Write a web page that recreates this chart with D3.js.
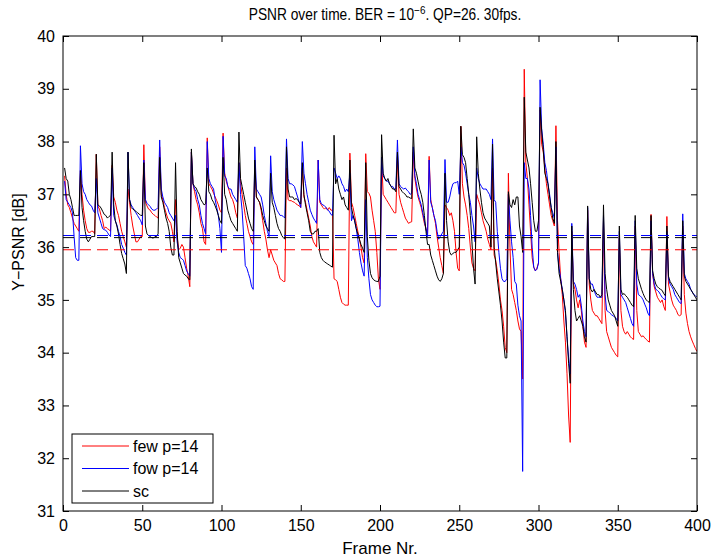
<!doctype html>
<html lang="en">
<head>
<meta charset="utf-8">
<title>PSNR over time</title>
<style>
html, body {
	margin: 0;
	padding: 0;
	background: #fff;
	overflow: hidden;
}
svg {
	display: block;
	font-family: 'Liberation Sans', Arial, sans-serif;
}
.frame {
	fill: none;
	stroke: #000;
	stroke-width: 1px;
}
.tick line {
	stroke: #000;
	stroke-width: 1px;
}
.series {
	fill: none;
	stroke-width: 1px;
	stroke-linejoin: round;
}
.mean {
	stroke-width: 1px;
	stroke-dasharray: 11, 6;
}
text {
	fill: #000;
}
</style>
</head>
<body>
<div id="chart"></div>
<script src="https://cdnjs.cloudflare.com/ajax/libs/d3/7.8.5/d3.min.js"></script>
<script>
/* DATA — one row per GOP of 10 frames, frame 10k+1 is the intra frame */

var seriesNames = ['few p=14', 'fow p=14', 'sc'];
var seriesColors = ['#ff0000', '#0000ff', '#000000'];

var fewRows = [
	[37.35, 37.0, 36.8, 36.75, 36.65, 36.55, 36.45, 36.4, 36.35, 36.3],
	[37.45, 37.0, 36.7, 36.5, 36.35, 36.28, 36.28, 36.3, 36.3, 36.25],
	[37.76, 36.78, 36.72, 36.6, 36.5, 36.35, 36.38, 36.35, 36.33, 36.3],
	[37.55, 36.95, 36.85, 36.7, 36.6, 36.45, 36.3, 36.2, 36.1, 36.0],
	[37.1, 36.85, 36.6, 36.4, 36.25, 36.1, 36.1, 36.15, 36.2, 36.2],
	[37.94, 36.85, 36.78, 36.72, 36.7, 36.65, 36.62, 36.6, 36.57, 36.55],
	[37.9, 37.0, 36.9, 36.75, 36.65, 36.55, 36.5, 36.45, 36.3, 36.1],
	[36.9, 36.2, 35.95, 35.98, 36.05, 36.0, 35.8, 35.6, 35.45, 35.25],
	[37.8, 37.2, 37.05, 36.9, 36.8, 36.65, 36.45, 36.35, 36.1, 36.05],
	[38.07, 37.2, 37.15, 37.1, 37.02, 36.95, 36.88, 36.8, 36.7, 36.65],
	[38.16, 37.4, 37.25, 37.15, 37.05, 36.95, 36.9, 36.8, 36.65, 36.55],
	[37.6, 37.2, 37.0, 36.8, 36.6, 36.45, 36.3, 36.2, 36.1, 36.05],
	[37.55, 36.95, 36.9, 36.85, 36.7, 36.5, 36.3, 36.15, 35.95, 35.8],
	[35.95, 35.85, 35.75, 35.7, 35.65, 35.5, 35.4, 35.38, 35.35, 35.35],
	[37.5, 36.9, 36.88, 36.88, 36.86, 36.85, 36.82, 36.8, 36.78, 36.75],
	[37.5, 36.95, 36.85, 36.7, 36.55, 36.4, 36.2, 36.1, 36.05, 36.0],
	[37.65, 36.85, 36.8, 36.75, 36.72, 36.75, 36.7, 36.75, 36.7, 36.7],
	[35.4, 35.38, 35.35, 35.2, 35.05, 34.95, 34.92, 34.9, 34.9, 34.9],
	[37.78, 36.85, 36.75, 36.6, 36.45, 36.3, 36.15, 36.0, 35.8, 35.7],
	[37.77, 37.05, 37.02, 36.95, 36.7, 36.5, 36.3, 35.9, 35.4, 35.2],
	[37.7, 37.0, 36.95, 36.9, 36.85, 36.8, 36.75, 36.7, 36.65, 36.65],
	[37.7, 37.0, 36.85, 36.75, 36.65, 36.55, 36.5, 36.45, 36.47, 36.48],
	[37.8, 37.3, 37.1, 36.95, 36.85, 36.75, 36.6, 36.45, 36.35, 36.25],
	[37.72, 36.9, 36.75, 36.6, 36.45, 36.2, 36.0, 35.8, 35.65, 35.5],
	[36.8, 36.75, 36.7, 36.6, 36.65, 36.5, 36.3, 35.9, 35.6, 35.55],
	[38.29, 37.2, 36.95, 36.8, 36.6, 36.35, 36.0, 35.7, 35.6, 35.55],
	[37.0, 36.9, 36.8, 36.65, 36.5, 36.4, 36.3, 36.15, 36.05, 35.95],
	[37.5, 35.85, 35.75, 35.55, 35.3, 35.0, 34.8, 34.5, 34.1, 34.0],
	[37.4, 36.0, 35.2, 35.1, 34.95, 34.8, 34.6, 34.45, 34.4, 33.5],
	[39.37, 37.6, 37.3, 36.8, 36.3, 35.8, 35.62, 35.55, 35.6, 35.7],
	[38.6, 37.95, 37.8, 37.5, 37.2, 37.0, 36.8, 36.6, 36.5, 36.4],
	[38.3, 36.5, 35.9, 35.4, 35.1, 34.6, 34.2, 33.6, 32.8, 32.3],
	[36.3, 35.3, 35.2, 35.0, 34.85, 35.0, 34.8, 34.5, 34.2, 34.1],
	[36.7, 35.3, 35.0, 34.8, 34.75, 34.7, 34.7, 34.65, 34.6, 34.55],
	[36.5, 34.8, 34.4, 34.3, 34.2, 34.1, 34.05, 34.0, 33.95, 33.92],
	[36.2, 34.8, 34.5, 34.4, 34.35, 34.4, 34.35, 34.3, 34.27, 34.25],
	[36.4, 34.8, 34.4, 34.35, 34.3, 34.32, 34.28, 34.25, 34.22, 34.2],
	[36.62, 35.5, 35.25, 35.15, 35.05, 35.0, 34.95, 35.0, 34.88, 34.8],
	[36.58, 35.3, 35.15, 35.0, 34.9, 34.85, 34.8, 34.72, 34.7, 34.72],
	[36.4, 35.1, 34.75, 34.55, 34.4, 34.3, 34.22, 34.15, 34.08, 34.02]
];

var fowRows = [
	[37.25, 36.9, 36.85, 36.8, 36.75, 36.65, 36.2, 35.8, 35.75, 35.75],
	[37.92, 37.2, 37.05, 37.0, 36.9, 36.85, 36.8, 36.78, 36.7, 36.65],
	[37.3, 36.65, 36.55, 36.45, 36.35, 36.33, 36.32, 36.28, 36.23, 36.2],
	[37.5, 36.6, 36.5, 36.42, 36.3, 36.2, 36.05, 35.98, 35.9, 35.85],
	[37.8, 36.9, 36.8, 36.75, 36.7, 36.65, 36.6, 36.55, 36.5, 36.42],
	[37.65, 36.9, 36.83, 36.8, 36.77, 36.72, 36.7, 36.7, 36.72, 36.75],
	[38.03, 37.1, 36.95, 36.85, 36.8, 36.75, 36.65, 36.6, 36.55, 36.5],
	[36.6, 36.1, 35.9, 35.8, 35.78, 35.75, 35.65, 35.55, 35.5, 35.45],
	[37.8, 37.2, 37.1, 37.05, 36.9, 36.8, 36.6, 36.45, 36.35, 36.25],
	[38.0, 37.3, 37.2, 37.15, 37.1, 36.9, 36.75, 36.6, 36.35, 35.9],
	[38.1, 37.35, 37.3, 37.15, 37.1, 37.1, 37.0, 36.95, 36.9, 36.85],
	[37.6, 37.0, 36.7, 36.2, 35.65, 35.6, 35.5, 35.4, 35.25, 35.2],
	[37.9, 37.1, 37.05, 37.0, 36.95, 36.8, 36.6, 36.45, 36.3, 36.2],
	[37.73, 37.05, 36.9, 36.8, 36.7, 36.65, 36.6, 36.6, 36.58, 36.55],
	[38.05, 37.3, 37.2, 37.2, 37.18, 37.15, 37.05, 36.95, 36.85, 36.75],
	[38.0, 37.4, 37.2, 37.0, 36.85, 36.7, 36.62, 36.55, 36.5, 36.45],
	[37.65, 36.9, 36.82, 36.8, 36.78, 36.75, 36.7, 36.68, 36.62, 36.6],
	[37.5, 37.4, 37.3, 37.35, 37.3, 37.2, 37.15, 37.05, 37.1, 37.05],
	[37.4, 36.5, 36.6, 36.5, 36.35, 36.15, 35.9, 35.7, 35.55, 35.45],
	[36.9, 35.8, 35.4, 35.1, 35.0, 34.95, 34.9, 34.87, 34.87, 34.88],
	[37.7, 37.35, 37.3, 37.25, 37.25, 37.2, 37.15, 37.15, 37.1, 37.1],
	[38.03, 37.2, 37.15, 37.12, 37.1, 37.12, 37.08, 37.05, 37.0, 37.02],
	[37.9, 37.35, 37.2, 37.0, 36.9, 36.8, 36.65, 36.5, 36.35, 36.2],
	[37.65, 36.85, 36.75, 36.6, 36.5, 36.3, 36.15, 36.2, 36.25, 36.3],
	[37.66, 36.85, 36.85, 36.95, 37.1, 37.2, 37.22, 37.22, 37.25, 37.0],
	[37.9, 37.6, 37.55, 37.4, 37.2, 37.0, 36.85, 36.6, 36.4, 36.1],
	[37.5, 37.3, 37.2, 37.15, 37.1, 37.1, 37.1, 37.05, 37.0, 36.9],
	[38.05, 36.9, 36.85, 36.3, 35.9, 35.6, 35.4, 35.35, 35.35, 35.4],
	[37.0, 36.5, 36.1, 35.8, 35.35, 35.3, 34.9, 34.7, 34.6, 31.75],
	[37.6, 37.3, 37.3, 37.1, 36.6, 36.0, 35.62, 35.55, 35.58, 35.7],
	[39.17, 38.25, 37.95, 37.6, 37.45, 37.2, 37.0, 36.75, 36.65, 36.55],
	[37.9, 35.9, 35.6, 35.4, 35.2, 35.0, 34.75, 34.3, 33.9, 33.6],
	[36.45, 35.35, 35.3, 35.2, 35.05, 35.1, 34.9, 34.6, 34.4, 34.3],
	[36.75, 35.4, 35.3, 35.3, 35.2, 35.1, 35.05, 35.05, 35.05, 35.05],
	[36.6, 35.1, 34.8, 34.78, 34.75, 34.72, 34.7, 34.68, 34.65, 34.6],
	[36.3, 35.1, 35.05, 35.0, 34.95, 34.85, 34.75, 34.65, 34.55, 34.5],
	[36.5, 35.3, 35.1, 35.08, 35.05, 35.0, 34.92, 34.85, 34.75, 34.7],
	[36.5, 35.5, 35.3, 35.2, 35.18, 35.15, 35.1, 35.05, 35.02, 35.0],
	[36.3, 35.4, 35.3, 35.25, 35.2, 35.1, 35.05, 35.0, 34.95, 34.93],
	[36.63, 35.5, 35.4, 35.35, 35.3, 35.2, 35.15, 35.1, 35.08, 35.05]
];

var scRows = [
	[37.5, 37.3, 37.25, 37.0, 36.9, 36.75, 36.6, 36.6, 36.6, 36.6],
	[37.45, 36.75, 36.5, 36.3, 36.15, 36.1, 36.15, 36.2, 36.2, 36.2],
	[37.76, 36.8, 36.78, 36.74, 36.68, 36.62, 36.6, 36.55, 36.58, 36.6],
	[37.8, 36.8, 36.5, 36.4, 36.25, 36.05, 35.88, 35.78, 35.68, 35.5],
	[37.8, 36.9, 36.75, 36.72, 36.7, 36.68, 36.65, 36.63, 36.6, 36.6],
	[37.6, 36.4, 36.25, 36.22, 36.2, 36.18, 36.17, 36.2, 36.2, 36.25],
	[37.7, 36.95, 36.85, 36.7, 36.55, 36.45, 36.3, 36.0, 35.85, 35.85],
	[37.6, 36.3, 35.8, 35.7, 35.6, 35.5, 35.47, 35.45, 35.4, 35.38],
	[37.86, 37.2, 37.15, 37.12, 37.05, 37.0, 36.9, 36.85, 36.8, 36.82],
	[37.5, 37.05, 37.0, 36.9, 36.85, 36.78, 36.7, 36.6, 36.5, 36.45],
	[37.7, 37.0, 36.9, 36.7, 36.6, 36.5, 36.45, 36.4, 36.35, 36.3],
	[38.18, 37.3, 37.15, 37.0, 36.85, 36.7, 36.55, 36.45, 36.35, 36.3],
	[37.65, 36.95, 36.9, 36.85, 36.75, 36.6, 36.5, 36.4, 36.35, 36.3],
	[37.4, 36.85, 36.75, 36.6, 36.45, 36.35, 36.3, 36.22, 36.18, 36.15],
	[37.9, 37.1, 36.95, 36.95, 36.95, 36.9, 36.92, 36.9, 36.85, 36.82],
	[37.6, 37.0, 36.8, 36.65, 36.5, 36.3, 36.25, 36.25, 36.3, 36.3],
	[36.35, 35.9, 35.8, 35.75, 35.72, 35.7, 35.68, 35.66, 35.64, 35.62],
	[38.12, 37.2, 37.3, 37.1, 37.0, 36.9, 36.95, 36.8, 36.75, 36.7],
	[37.65, 36.75, 36.6, 36.5, 36.35, 36.25, 36.15, 36.05, 35.98, 35.9],
	[37.6, 36.2, 35.75, 35.5, 35.42, 35.38, 35.36, 35.35, 35.35, 35.45],
	[38.13, 37.4, 37.3, 37.25, 37.3, 37.2, 37.15, 37.1, 37.1, 37.05],
	[37.8, 37.15, 37.1, 37.05, 37.02, 37.0, 36.95, 36.95, 36.93, 36.92],
	[38.24, 37.5, 37.4, 37.25, 37.1, 37.0, 36.85, 36.6, 36.3, 36.05],
	[36.05, 35.85, 35.75, 35.65, 35.55, 35.45, 35.38, 35.35, 35.4, 35.5],
	[37.4, 36.5, 36.1, 35.9, 35.85, 35.88, 35.9, 35.9, 35.95, 36.0],
	[38.29, 37.75, 37.7, 37.6, 37.3, 37.0, 36.6, 36.1, 35.6, 35.3],
	[38.09, 37.4, 37.1, 36.85, 36.65, 36.55, 36.5, 36.45, 36.4, 36.0],
	[37.95, 36.0, 35.7, 35.4, 35.15, 34.9, 34.6, 34.2, 33.9, 33.9],
	[37.05, 36.8, 36.75, 36.9, 36.8, 36.95, 36.95, 36.4, 36.2, 35.9],
	[38.84, 37.8, 37.65, 37.5, 37.2, 36.85, 36.5, 36.3, 36.3, 36.5],
	[38.65, 38.2, 37.85, 37.4, 37.3, 37.2, 36.95, 36.75, 36.55, 36.45],
	[38.0, 35.9, 35.5, 35.35, 35.2, 35.0, 34.8, 34.3, 33.8, 33.42],
	[36.4, 35.2, 34.8, 34.6, 34.65, 34.7, 34.6, 34.5, 34.3, 34.2],
	[36.78, 35.4, 35.2, 35.15, 35.2, 35.15, 35.1, 35.1, 35.05, 35.1],
	[36.8, 35.5, 35.2, 35.0, 34.9, 34.8, 34.75, 34.7, 34.6, 34.5],
	[36.4, 35.2, 35.1, 35.12, 35.08, 35.05, 35.0, 34.95, 34.9, 34.87],
	[36.6, 35.6, 35.4, 35.3, 35.2, 35.12, 35.05, 35.0, 34.97, 34.95],
	[36.6, 35.55, 35.4, 35.3, 35.25, 35.22, 35.2, 35.18, 35.12, 35.08],
	[36.4, 35.45, 35.35, 35.3, 35.25, 35.2, 35.15, 35.1, 35.05, 35.0],
	[36.5, 35.45, 35.35, 35.3, 35.25, 35.2, 35.15, 35.1, 35.05, 35.0]
];

// mean PSNR of each series (dashed lines)
var meanValues = [35.95, 36.22, 36.18];

var xTicks = [0, 50, 100, 150, 200, 250, 300, 350, 400];
var yTicks = [31, 32, 33, 34, 35, 36, 37, 38, 39, 40];

(function _psnr(d3) {

	'use strict';

	/* CONST */

	var W = 713, H = 560;
	var plot = { left: 63, right: 697, top: 36, bottom: 511 };
	var TICK = 6;
	var TICK_FONT = 16;
	var LABEL_FONT = 17;

	var x = d3.scaleLinear().domain([0, 400]).range([plot.left, plot.right]);
	var y = d3.scaleLinear().domain([31, 40]).range([plot.bottom, plot.top]);

	/* DATA */

	var toPoints = function (rows) {
		return d3.merge(rows).map(function (v, i) {
			return { frame: i + 1, value: v };
		});
	};

	var series = [fewRows, fowRows, scRows].map(function (rows, i) {
		return {
			name: seriesNames[i],
			color: seriesColors[i],
			mean: meanValues[i],
			points: toPoints(rows)
		};
	});

	/* RENDER */

	var svg = d3.select('#chart').append('svg')
		.attr('width', W)
		.attr('height', H);

	svg.append('defs').append('clipPath').attr('id', 'clip')
		.append('rect')
		.attr('x', plot.left).attr('y', plot.top)
		.attr('width', plot.right - plot.left)
		.attr('height', plot.bottom - plot.top);

	var line = d3.line()
		.x(function (d) { return x(d.frame); })
		.y(function (d) { return y(d.value); });

	var lines = svg.append('g').attr('clip-path', 'url(#clip)');

	lines.selectAll('path.series')
		.data(series).enter()
		.append('path')
		.attr('class', 'series')
		.attr('stroke', function (d) { return d.color; })
		.attr('d', function (d) { return line(d.points); });

	lines.selectAll('line.mean')
		.data(series).enter()
		.append('line')
		.attr('class', 'mean')
		.attr('stroke', function (d) { return d.color; })
		.attr('x1', x(0)).attr('x2', x(400))
		.attr('y1', function (d) { return y(d.mean); })
		.attr('y2', function (d) { return y(d.mean); });

	// axes, MATLAB style: ticks pointing inward on all four sides
	var fmt = d3.format('d');
	svg.append('g')
		.attr('transform', 'translate(0,' + plot.bottom + ')')
		.call(d3.axisBottom(x).tickValues(xTicks).tickSize(-TICK).tickPadding(9).tickFormat(fmt))
		.call(function (g) { g.select('.domain').remove(); });
	svg.append('g')
		.attr('transform', 'translate(0,' + plot.top + ')')
		.call(d3.axisTop(x).tickValues(xTicks).tickSize(-TICK).tickFormat(''))
		.call(function (g) { g.select('.domain').remove(); });
	svg.append('g')
		.attr('transform', 'translate(' + plot.left + ',0)')
		.call(d3.axisLeft(y).tickValues(yTicks).tickSize(-TICK).tickPadding(8).tickFormat(fmt))
		.call(function (g) { g.select('.domain').remove(); });
	svg.append('g')
		.attr('transform', 'translate(' + plot.right + ',0)')
		.call(d3.axisRight(y).tickValues(yTicks).tickSize(-TICK).tickFormat(''))
		.call(function (g) { g.select('.domain').remove(); });

	svg.selectAll('.tick text')
		.attr('font-size', TICK_FONT)
		.attr('font-family', "'Liberation Sans', Arial, sans-serif");

	svg.append('rect')
		.attr('class', 'frame')
		.attr('x', plot.left).attr('y', plot.top)
		.attr('width', plot.right - plot.left)
		.attr('height', plot.bottom - plot.top);

	// title with superscript exponent, slightly narrower than plain Arial
	var title = svg.append('text')
		.attr('transform', 'translate(385,20) scale(0.86,1)')
		.attr('text-anchor', 'middle')
		.attr('font-size', 16);
	title.append('tspan').text('PSNR over time. BER = 10');
	title.append('tspan').attr('dy', -6).attr('font-size', 11.5).text('\u22126');
	title.append('tspan').attr('dy', 6).text('. QP=26. 30fps.');

	svg.append('text')
		.attr('x', (plot.left + plot.right) / 2)
		.attr('y', 554)
		.attr('text-anchor', 'middle')
		.attr('font-size', LABEL_FONT)
		.text('Frame Nr.');

	svg.append('text')
		.attr('transform', 'translate(24,242) rotate(-90)')
		.attr('text-anchor', 'middle')
		.attr('font-size', 16)
		.text('Y\u2212PSNR [dB]');

	/* LEGEND */

	var lg = svg.append('g').attr('transform', 'translate(72,434)');
	lg.append('rect')
		.attr('width', 141).attr('height', 69)
		.attr('fill', '#fff').attr('stroke', '#000');
	var item = lg.selectAll('g.item')
		.data(series).enter()
		.append('g')
		.attr('transform', function (d, i) { return 'translate(0,' + (12 + i * 22.5) + ')'; });
	item.append('line')
		.attr('x1', 10).attr('x2', 57)
		.attr('stroke', function (d) { return d.color; });
	item.append('text')
		.attr('x', 61).attr('dy', '0.35em')
		.attr('font-size', TICK_FONT)
		.text(function (d) { return d.name; });

})(window.d3);
</script>
</body>
</html>
